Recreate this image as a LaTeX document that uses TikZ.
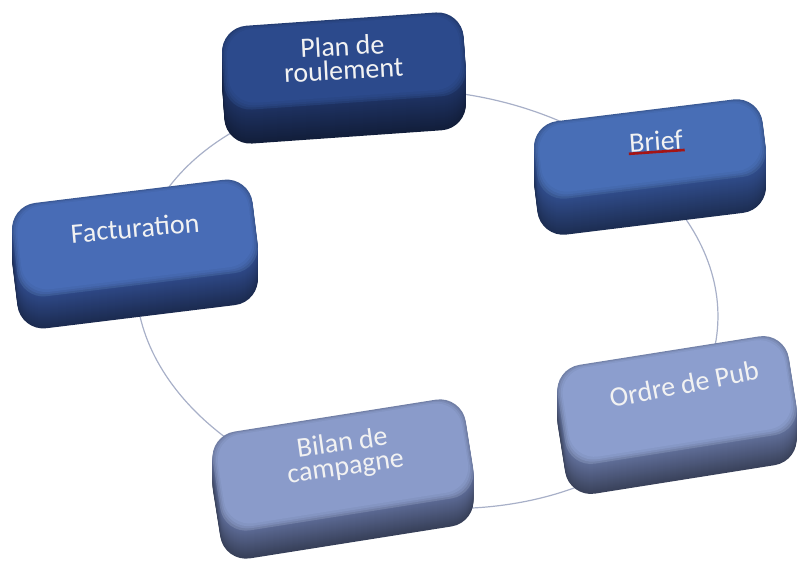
\documentclass[tikz,border=0pt]{standalone}
\usepackage{fontspec}
\setmainfont{Carlito}
\usetikzlibrary{calc}
\definecolor{ringc}{RGB}{168,176,200}
\definecolor{planF}{RGB}{44,74,140}
\definecolor{planS}{RGB}{30,50,98}
\definecolor{briefF}{RGB}{72,110,182}
\definecolor{briefS}{RGB}{48,76,138}
\definecolor{factF}{RGB}{72,108,182}
\definecolor{factS}{RGB}{46,72,134}
\definecolor{ordreF}{RGB}{140,158,206}
\definecolor{ordreS}{RGB}{96,110,152}
\definecolor{bilanF}{RGB}{138,155,202}
\definecolor{bilanS}{RGB}{92,106,148}
\definecolor{spell}{RGB}{165,20,20}
\definecolor{lbltext}{RGB}{242,242,242}
\tikzset{
  boxface/.style={rounded corners=26pt, inner sep=0pt, draw=none},
  lbl/.style={font=\fontsize{28}{24}\selectfont, text=lbltext, align=center, inner sep=1pt},
  ring/.style={draw=ringc, line width=1.2pt},
  spellline/.style={draw=spell, line width=2.6pt},
}
% #1 name, #2 x, #3 y, #4 w, #5 h, #6 rot, #7 depth, #8 colour prefix
\newcommand\cubebox[8]{%
  \foreach \i in {#7,...,1}{%
    \pgfmathsetmacro\pc{60+40*(#7-\i)/#7}%
    \node[boxface, minimum width=#4pt, minimum height=#5pt, rotate=#6,
          fill=#8S!\pc!black] at (#2,#3+\i) {};
  }%
  \node[boxface, minimum width=#4pt, minimum height=#5pt, rotate=#6, fill=#8F!82!black] (#1) at (#2,#3) {};
  \node[boxface, minimum width=#4pt-3pt, minimum height=#5pt-3pt, rotate=#6, fill=#8F!90!black] at (#2,#3-0.5) {};
  \node[boxface, minimum width=#4pt-6pt, minimum height=#5pt-6pt, rotate=#6, fill=#8F!96!black] at (#2,#3-1) {};
  \node[boxface, minimum width=#4pt-9pt, minimum height=#5pt-10pt, rotate=#6, fill=#8F] at (#2,#3-1.5) {};
}
\begin{document}
\begin{tikzpicture}[x=1pt, y=-1pt]
  \useasboundingbox (0,0) rectangle (803,563);
  \coordinate (ringc) at (427,299);
  \draw[ring, rotate around={-7:(ringc)}] (ringc) ellipse [x radius=292, y radius=208];

  \cubebox{plan}{344}{61}{242}{84}{4}{34}{plan}
  \cubebox{brief}{650}{149}{230}{78}{7}{36}{brief}
  \cubebox{fact}{135}{238}{242}{94}{7}{32}{fact}
  \cubebox{ordre}{677}{400}{234}{100}{9}{30}{ordre}
  \cubebox{bilan}{343}{465}{256}{100}{9}{28}{bilan}

  \node[lbl, rotate=3] (plan-t) at (343,58) {Plan de\\roulement};
  \node[lbl, rotate=4] (brief-t) at (656,141) {Brief};
  \draw[spellline] (brief-t.south west) -- (brief-t.south east);
  \node[lbl, rotate=5] (fact-t) at (135,228) {Facturation};
  \node[lbl, rotate=11] (ordre-t) at (684,384) {Ordre de Pub};
  \node[lbl, rotate=8] (bilan-t) at (344,456) {Bilan de\\campagne};
\end{tikzpicture}
\end{document}
